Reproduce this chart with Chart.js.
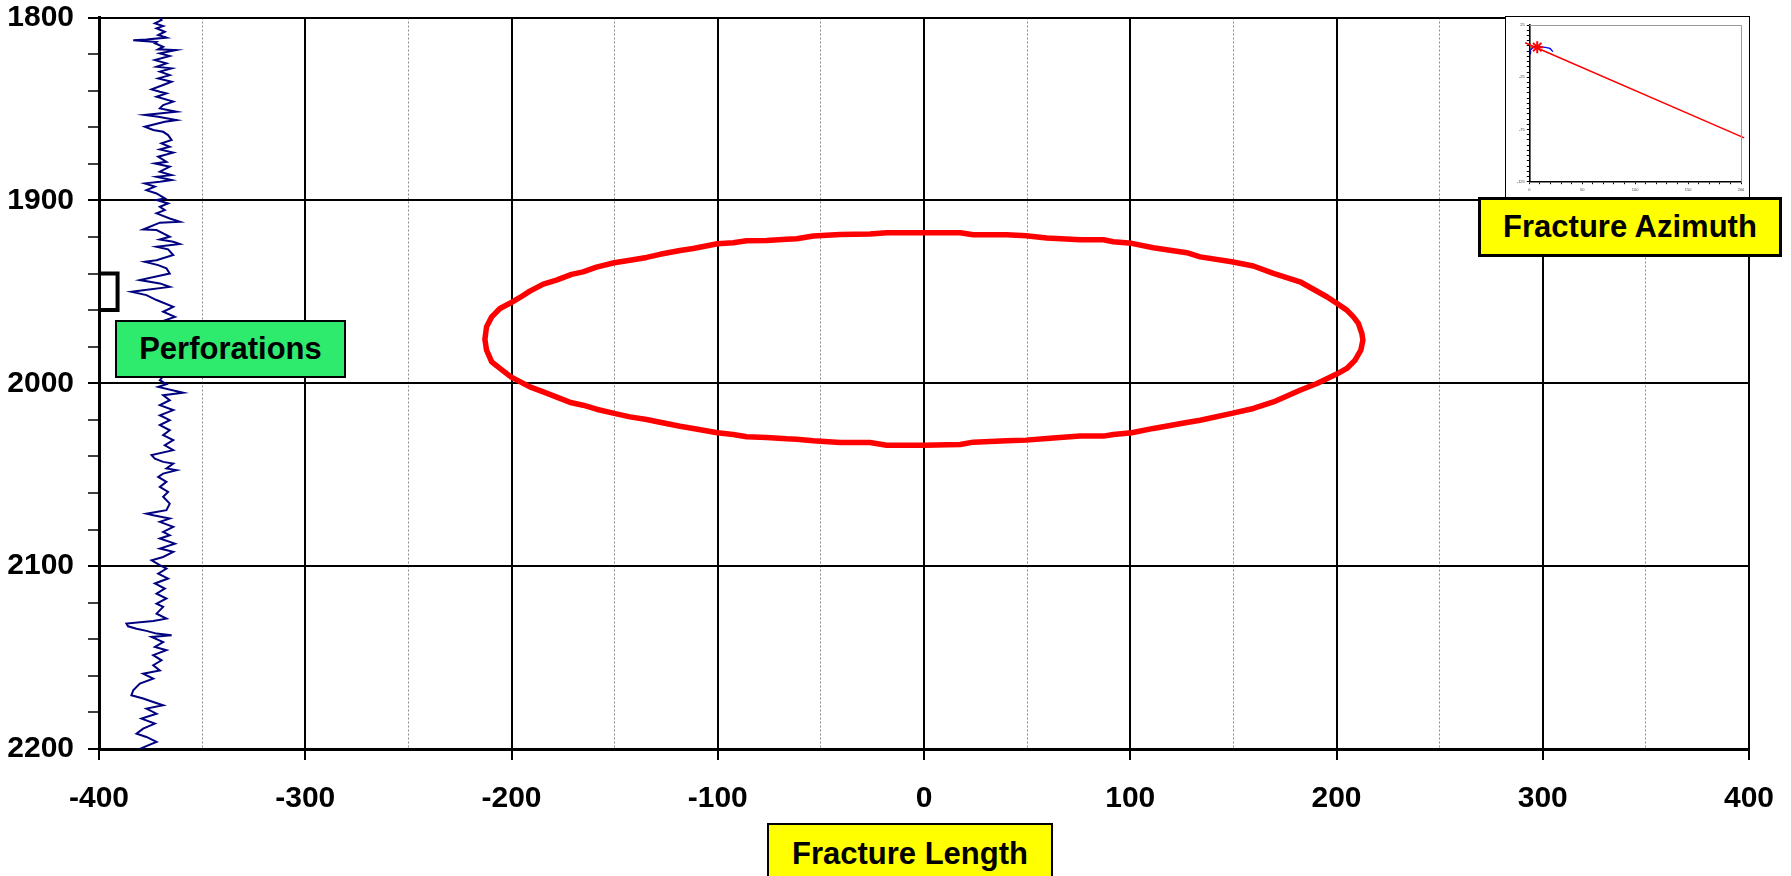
<!DOCTYPE html>
<html>
<head>
<meta charset="utf-8">
<title>Fracture Geometry</title>
<script src="https://cdn.jsdelivr.net/npm/chart.js@4.4.1/dist/chart.umd.min.js"></script>
<style>
  html, body { margin: 0; padding: 0; background: #fff; }
  #wrap { position: relative; width: 1791px; height: 876px; overflow: hidden; background: #fff; }
  #main { position: absolute; left: 0; top: 0; }
  #inset { position: absolute; left: 1505px; top: 16px; width: 245px; height: 182px;
           box-sizing: border-box; border: 1px solid #000; background: #fff; }
  #inset canvas { position: absolute; left: 0; top: 0; }
  .tag { position: absolute; box-sizing: border-box; border: 2px solid #000;
         display: flex; align-items: center; justify-content: center;
         font-family: "Liberation Sans", Arial, sans-serif; font-weight: bold; font-size: 31px;
         color: #000; white-space: nowrap; }
</style>
</head>
<body>
<div id="wrap">
  <canvas id="main" width="1791" height="876"></canvas>
  <div id="inset"><canvas id="azimuth" width="243" height="180"></canvas></div>
  <div class="tag" style="left:115px;top:320px;width:231px;height:58px;background:#2EEB6E;">Perforations</div>
  <div class="tag" style="left:1478px;top:197px;width:304px;height:60px;background:#FFFF00;border-width:3px;">Fracture Azimuth</div>
  <div class="tag" style="left:767px;top:823px;width:286px;height:62px;background:#FFFF00;">Fracture Length</div>
</div>
<script>
// ---- Gamma-ray style log trace (depth, reading on the length axis) ----
const logDepth = [
  1800.0, 1801.4, 1803.2, 1804.7, 1805.9, 1807.8, 1809.6, 1811.0, 1812.0, 1812.4,
  1813.0, 1813.4, 1814.1, 1816.0, 1817.4, 1817.8, 1819.6, 1821.1, 1823.3, 1825.1,
  1826.9, 1827.8, 1829.6, 1831.5, 1833.3, 1835.1, 1836.9, 1839.3, 1840.6, 1841.5,
  1843.3, 1846.0, 1847.9, 1849.7, 1851.5, 1853.3, 1854.3, 1856.1, 1857.0, 1859.7,
  1861.5, 1862.5, 1864.3, 1867.0, 1868.8, 1870.7, 1872.1, 1873.9, 1876.1, 1878.9,
  1879.8, 1881.6, 1884.3, 1886.2, 1887.1, 1888.9, 1889.8, 1890.7, 1892.5, 1894.4,
  1896.2, 1898.9, 1899.8, 1901.7, 1903.5, 1905.3, 1907.1, 1909.9, 1911.7, 1912.2,
  1915.9, 1916.2, 1918.1, 1919.9, 1921.4, 1922.6, 1923.9, 1925.4, 1926.8, 1929.9,
  1932.7, 1933.6, 1935.4, 1937.2, 1940.0, 1943.6, 1945.4, 1947.3, 1949.1, 1950.0,
  1951.8, 1954.5, 1958.2, 1960.9, 1963.7, 1966.5, 1970.0, 1974.0, 1978.0, 1982.0,
  1986.0, 1990.0, 1994.0, 1998.3, 2000.5, 2002.0, 2005.2, 2006.5, 2009.3, 2012.0,
  2014.7, 2017.5, 2020.2, 2022.9, 2025.7, 2028.4, 2031.1, 2033.9, 2036.6, 2039.3,
  2041.2, 2043.0, 2043.9, 2046.6, 2047.5, 2049.4, 2051.2, 2053.9, 2056.7, 2059.4,
  2062.1, 2065.8, 2069.4, 2071.3, 2072.2, 2074.0, 2075.8, 2078.5, 2081.3, 2083.1,
  2084.9, 2087.7, 2090.4, 2092.2, 2095.0, 2096.8, 2099.5, 2101.3, 2104.1, 2106.8,
  2109.5, 2112.3, 2115.0, 2117.7, 2120.5, 2122.3, 2126.0, 2128.7, 2130.0, 2131.4,
  2132.9, 2134.2, 2135.4, 2136.9, 2137.8, 2138.7, 2141.5, 2144.2, 2146.0, 2148.7,
  2151.5, 2154.2, 2157.0, 2158.8, 2161.5, 2164.2, 2167.9, 2170.6, 2172.4, 2174.3,
  2176.1, 2177.9, 2180.7, 2183.4, 2186.1, 2188.9, 2191.6, 2193.4, 2196.1, 2198.0,
  2200.0
];
const logValue = [
  -370.8, -369.7, -372.9, -368.9, -372.1, -368.1, -371.3, -367.3, -377.0, -383.4,
  -377.0, -372.1, -372.9, -368.9, -371.3, -362.7, -370.5, -365.7, -372.9, -367.3,
  -372.1, -364.8, -370.5, -365.7, -371.3, -364.8, -368.9, -374.5, -370.5, -367.3,
  -372.1, -364.0, -368.9, -370.5, -362.4, -377.8, -371.3, -362.4, -368.1, -377.8,
  -373.7, -368.9, -366.5, -364.8, -369.7, -365.7, -370.5, -364.0, -371.3, -367.3,
  -372.9, -365.7, -370.5, -364.8, -372.1, -364.8, -370.5, -377.8, -372.9, -377.0,
  -372.1, -368.1, -372.1, -366.5, -370.5, -368.1, -372.1, -365.7, -360.8, -370.5,
  -378.6, -372.1, -368.9, -365.7, -370.5, -364.0, -360.8, -372.1, -366.5, -364.0,
  -372.1, -377.8, -371.3, -367.3, -365.7, -380.2, -370.5, -365.7, -378.6, -384.3,
  -377.0, -372.1, -364.0, -368.9, -363.2, -370.5, -366.5, -371.3, -367.3, -372.1,
  -366.5, -370.5, -367.3, -370.5, -367.3, -371.3, -359.2, -368.9, -365.7, -370.5,
  -364.0, -370.5, -365.7, -370.5, -365.7, -368.9, -364.0, -368.1, -364.0, -374.5,
  -372.9, -368.9, -364.0, -367.3, -362.4, -368.9, -371.3, -367.3, -370.5, -366.5,
  -368.9, -365.7, -367.3, -377.0, -373.7, -365.7, -370.5, -364.0, -368.9, -365.7,
  -370.5, -363.2, -370.5, -364.0, -368.9, -374.5, -370.5, -367.3, -371.3, -366.5,
  -372.9, -368.1, -372.1, -367.3, -372.1, -368.9, -372.1, -367.3, -373.7, -386.7,
  -385.9, -381.8, -377.0, -372.1, -364.8, -374.5, -368.9, -372.9, -367.3, -373.7,
  -369.7, -373.7, -370.5, -378.6, -373.7, -380.2, -383.4, -384.3, -378.6, -373.7,
  -368.9, -377.0, -372.1, -379.4, -372.9, -378.6, -381.8, -377.0, -372.1, -376.2,
  -380.2
];

// ---- Fracture outline: half-length (x) against depth (y), traced clockwise ----
const fracLength = [
  0, 17.5, 23.9, 40.1, 49.5, 59.5, 75.7, 87, 91.8, 100.7,
  111.2, 127.4, 133.9, 149.2, 159.7, 169.4, 182.3, 195.3, 200.1, 205.0,
  208.2, 210.6, 212.3, 212.8, 211.8, 209.0, 205.0, 200.1, 190.5, 182.3,
  169.4, 159.7, 149.2, 133.9, 127.4, 111.2, 100.7, 91.8, 87, 75.7,
  59.5, 49.5, 40.1, 23.9, 17.5, 0, -18.1, -26.2, -40.7, -53.7,
  -61.7, -66.6, -76.3, -86, -92.5, -100.2, -111.9, -118.3, -128, -134.5,
  -142.6, -150.2, -158.8, -165.3, -170.9, -184.6, -191.1, -200.3, -205.6, -209.6,
  -212.1, -212.9, -212.1, -209.6, -205.6, -200.3, -195.9, -191.1, -184.6, -178.2,
  -170.9, -165.3, -158.8, -150.2, -142.6, -134.5, -128, -118.3, -111.9, -100.2,
  -92.5, -86, -76.3, -66.6, -61.7, -53.7, -40.7, -26.2, -18.1, 0
];
const fracDepth = [
  1917.7, 1917.7, 1918.8, 1918.8, 1919.4, 1920.6, 1921.5, 1921.5, 1922.6, 1923.5,
  1925.9, 1928.6, 1930.9, 1933.6, 1935.9, 1939.9, 1944.5, 1952.7, 1956.3, 1960.0,
  1963.7, 1967.3, 1972.8, 1976.4, 1981.9, 1987.4, 1991.9, 1995.0, 2000.1, 2003.8,
  2010.2, 2013.8, 2016.5, 2020.2, 2021.5, 2024.7, 2027.1, 2028.0, 2028.9, 2028.9,
  2030.2, 2031.1, 2031.5, 2032.2, 2033.5, 2033.9, 2033.9, 2032.4, 2032.4, 2031.5,
  2030.6, 2030.4, 2029.7, 2029.3, 2028.0, 2027.1, 2024.7, 2023.5, 2021.3, 2019.8,
  2018.4, 2016.5, 2014.2, 2012.0, 2010.7, 2004.7, 2002.0, 1996.5, 1991.9, 1988.3,
  1981.9, 1976.0, 1969.1, 1963.7, 1959.1, 1956.0, 1953.1, 1949.6, 1945.8, 1943.6,
  1940.5, 1939.1, 1936.5, 1934.1, 1932.7, 1931.2, 1929.5, 1927.4, 1926.3, 1923.7,
  1923.2, 1922.1, 1921.9, 1921.2, 1921.0, 1919.5, 1918.6, 1918.4, 1917.7, 1917.7
];

// ---- Perforated interval bracket ----
const perfX = [-400, -391, -391, -400];
const perfDepth = [1940, 1940, 1960, 1960];

// ---- Axis ranges ----
const lengthRange = [-400, 400];
const depthRange = [1800, 2200];

// ---- Plan-view azimuth inset ----
const azLineX = [-4, 203];
const azLineY = [8, -83];
const wellX = [7.5];
const wellY = [3.8];
const arcX = [0, 1.5, 3.7, 8, 13, 17, 19.3, 22.4];
const arcY = [-1.4, 1.5, 3.3, 4.4, 3.8, 3.2, 2.6, -0.5];
const azRangeX = [0, 200];
const azRangeY = [-125, 25];

const pts = (xs, ys) => xs.map((x, i) => ({ x: x, y: ys[i] }));
const FONT = '"Liberation Sans", Arial, sans-serif';
const isMajor = v => Math.abs(v % 100) < 1e-6;

new Chart(document.getElementById('main'), {
  type: 'scatter',
  data: {
    datasets: [
      { label: 'Fracture', data: pts(fracLength, fracDepth), showLine: true,
        borderColor: '#FF0000', borderWidth: 5.5, pointRadius: 0, tension: 0,
        borderJoinStyle: 'round' },
      { label: 'Perforations', data: pts(perfX, perfDepth), showLine: true,
        borderColor: '#000000', borderWidth: 4, pointRadius: 0, clip: false,
        borderJoinStyle: 'miter' },
      { label: 'Log', data: pts(logValue, logDepth), showLine: true,
        borderColor: '#000080', borderWidth: 2, pointRadius: 0, tension: 0 }
    ]
  },
  options: {
    responsive: false,
    devicePixelRatio: 1,
    animation: false,
    events: [],
    layout: { padding: { left: 0, top: 17.5, right: 42, bottom: 0 } },
    plugins: { legend: { display: false }, tooltip: { enabled: false } },
    scales: {
      x: {
        type: 'linear', min: lengthRange[0], max: lengthRange[1],
        afterFit: s => { s.height = 127; s.paddingLeft = 0; s.paddingRight = 0; },
        ticks: {
          stepSize: 50, autoSkip: false, maxRotation: 0, padding: 21,
          color: '#000', font: { family: FONT, weight: 'bold', size: 30 },
          callback: v => isMajor(v) ? String(v) : ''
        },
        grid: {
          color: c => isMajor(c.tick.value) ? '#000000' : '#8a8a8a',
          lineWidth: c => isMajor(c.tick.value) ? 2 : 1,
          tickColor: c => isMajor(c.tick.value) ? '#000000' : 'rgba(0,0,0,0)',
          tickLength: 11, tickWidth: 2
        },
        border: {
          color: '#000', width: 3,
          dash: c => (c.tick && !isMajor(c.tick.value)) ? [2, 2] : []
        }
      },
      y: {
        type: 'linear', reverse: true, min: depthRange[0], max: depthRange[1],
        afterFit: s => { s.width = 99; s.paddingTop = 0; s.paddingBottom = 0; },
        ticks: {
          stepSize: 20, autoSkip: false, padding: 14,
          color: '#000', font: { family: FONT, weight: 'bold', size: 30 },
          callback: v => isMajor(v) ? String(v) : ''
        },
        grid: {
          color: c => isMajor(c.tick.value) ? '#000000' : 'rgba(0,0,0,0)',
          lineWidth: 2,
          tickColor: '#000000',
          tickLength: 11,
          tickWidth: c => isMajor(c.tick.value) ? 2 : 1.5
        },
        border: { color: '#000', width: 3 }
      }
    }
  }
});

// Light frame on the top and right of the inset plot area
const plotFrame = {
  id: 'plotFrame',
  afterDraw(chart) {
    const { ctx, chartArea: a } = chart;
    ctx.save();
    ctx.strokeStyle = '#9a9a9a';
    ctx.lineWidth = 1;
    ctx.beginPath();
    ctx.moveTo(a.left, a.top + 0.5);
    ctx.lineTo(a.right + 0.5, a.top + 0.5);
    ctx.lineTo(a.right + 0.5, a.bottom);
    ctx.stroke();
    ctx.restore();
  }
};

new Chart(document.getElementById('azimuth'), {
  type: 'scatter',
  data: {
    datasets: [
      { data: pts(wellX, wellY), pointStyle: 'star', pointRadius: 6,
        borderColor: '#FF0000', backgroundColor: '#FF0000', pointBorderWidth: 2 },
      { data: pts([arcX[0]], [arcY[0]]), pointStyle: 'rect', pointRadius: 2,
        backgroundColor: '#000080', borderColor: '#000080' },
      { data: pts(arcX, arcY), showLine: true, borderColor: '#0000FF',
        borderWidth: 1.3, pointRadius: 0, tension: 0.3 },
      { data: pts(azLineX, azLineY), showLine: true, borderColor: '#FF0000',
        borderWidth: 1.5, pointRadius: 0, clip: false }
    ]
  },
  options: {
    responsive: false,
    devicePixelRatio: 1,
    animation: false,
    events: [],
    layout: { padding: { left: 0, top: 4, right: 5.7, bottom: 0 } },
    plugins: { legend: { display: false }, tooltip: { enabled: false } },
    scales: {
      x: {
        type: 'linear', min: azRangeX[0], max: azRangeX[1],
        afterFit: s => { s.height = 15.3; s.paddingLeft = 0; s.paddingRight = 0; },
        ticks: {
          stepSize: 10, autoSkip: false, maxRotation: 0, padding: 3,
          color: '#444', font: { family: FONT, size: 4 },
          callback: v => (v % 50 === 0) ? String(v) : ''
        },
        grid: { drawOnChartArea: false, tickColor: '#000', tickLength: 2.5, tickWidth: 1 },
        border: { color: '#000', width: 1.6 }
      },
      y: {
        type: 'linear', min: azRangeY[0], max: azRangeY[1],
        afterFit: s => { s.width = 23.3; s.paddingTop = 0; s.paddingBottom = 0; },
        ticks: {
          stepSize: 5, autoSkip: false, padding: 2,
          color: '#444', font: { family: FONT, size: 4 },
          callback: v => ((v + 125) % 50 === 0) ? String(v) : ''
        },
        grid: { drawOnChartArea: false, tickColor: '#000', tickLength: 2.5, tickWidth: 1 },
        border: { color: '#000', width: 1.6 }
      }
    }
  },
  plugins: [plotFrame]
});
</script>
</body>
</html>
